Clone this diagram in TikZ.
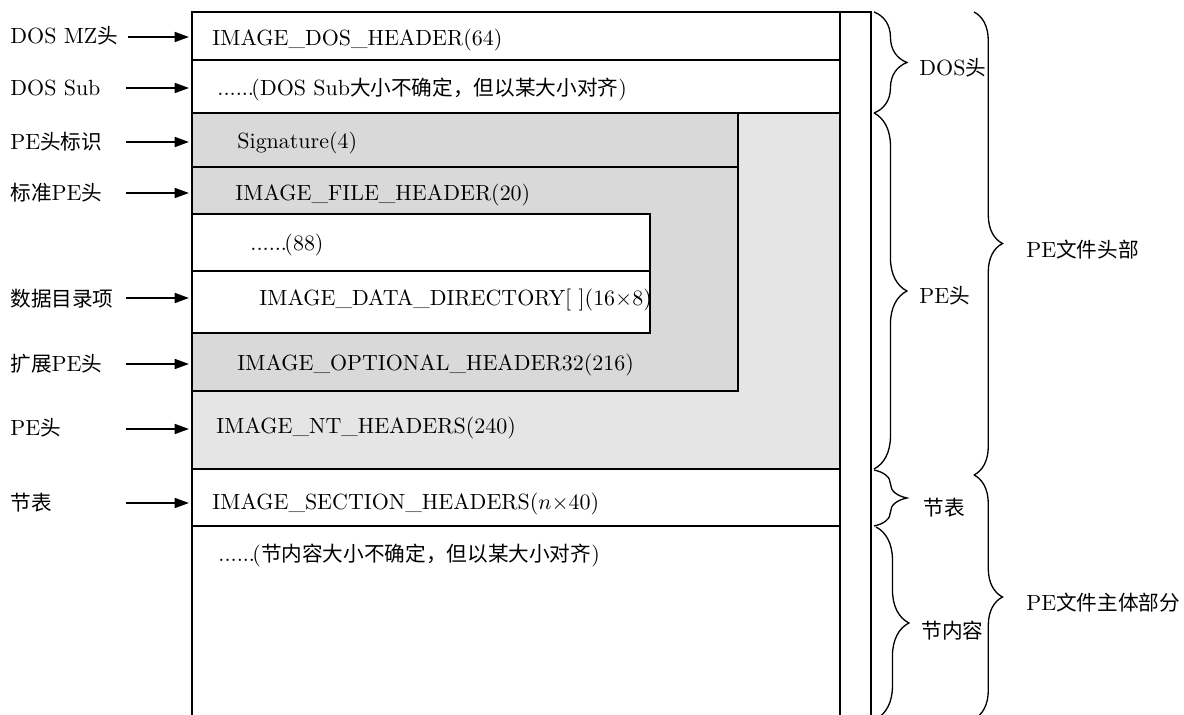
\documentclass[tikz,border=0pt]{standalone}
\usepackage{fontspec}
\usepackage{amsmath}
\newfontfamily\cjk[Scale=0.94]{Noto Sans CJK SC}
\newcommand{\zh}[1]{{\cjk #1}}
\newcommand{\sixdots}{\makebox[15.5pt][s]{.\hfil.\hfil.\hfil.\hfil.\hfil.}}
\usetikzlibrary{arrows.meta,decorations.pathreplacing}
\definecolor{ltgray}{RGB}{229,229,229}
\definecolor{dkgray}{RGB}{217,217,217}

\begin{document}
\begin{tikzpicture}[x=0.016cm, y=-0.016cm,
        lbl/.style={anchor=west, inner sep=0pt},
        ptr/.style={-{Triangle[length=6.5pt,width=4.5pt]}, line width=0.9pt},
        brc/.style={decorate, decoration={brace, amplitude=#1}, line width=0.6pt},
        brc/.default=15pt,
        box/.style={line width=0.6pt}]
    \useasboundingbox (0,0) rectangle (1184,715);
    \clip (0,0) rectangle (1184,715);

    % shaded parts
    \fill[ltgray] (192,113) rectangle (840,469);
    \draw[box, fill=dkgray] (192,113) rectangle (738,167);
    \draw[box, fill=dkgray] (192,167) rectangle (738,391);
    \draw[box, fill=white] (192,214) rectangle (650,271);
    \draw[box, fill=white] (192,271) rectangle (650,333);

    % frame
    \draw[box] (192,730) -- (192,12) -- (871,12) -- (871,730);
    \draw[box] (840,12) -- (840,730);
    \draw[box] (192,60) -- (840,60);
    \draw[box] (192,113) -- (840,113);
    \draw[box] (192,469) -- (840,469);
    \draw[box] (192,526) -- (840,526);

    % texts in the file
    \node[lbl] (dos) at (212,40) {IMAGE\_DOS\_HEADER(64)};
    \node[lbl] (sub) at (217,90) {\sixdots(DOS Sub\zh{大小不确定，但以某大小对齐})};
    \node[lbl] (sig) at (237,143) {Signature(4)};
    \node[lbl] (fh) at (235,195) {IMAGE\_FILE\_HEADER(20)};
    \node[lbl] (pad) at (250,245) {\sixdots(88)};
    \node[lbl] (dd) at (259,300) {IMAGE\_DATA\_DIRECTORY[~](16$\times$8)};
    \node[lbl] (oh) at (237,365) {IMAGE\_OPTIONAL\_HEADER32(216)};
    \node[lbl] (nt) at (216,428) {IMAGE\_NT\_HEADERS(240)};
    \node[lbl] (sh) at (212,504) {IMAGE\_SECTION\_HEADERS($n\times$40)};
    \node[lbl] (sc) at (218,556) {\sixdots(\zh{节内容大小不确定，但以某大小对齐})};

    % names on the left
    \node[lbl] (l1) at (10,36) {DOS MZ\zh{头}};
    \node[lbl] (l2) at (10,88) {DOS Sub};
    \node[lbl] (l3) at (10,142) {PE\zh{头标识}};
    \node[lbl] (l4) at (10,193) {\zh{标准}PE\zh{头}};
    \node[lbl] (l5) at (10,299) {\zh{数据目录项}};
    \node[lbl] (l6) at (10,364) {\zh{扩展}PE\zh{头}};
    \node[lbl] (l7) at (10,428) {PE\zh{头}};
    \node[lbl] (l8) at (10,503) {\zh{节表}};

    \coordinate (s1) at (128,37);  \coordinate (e1) at (189,37);
    \coordinate (s2) at (126,88);  \coordinate (e2) at (189,88);
    \coordinate (s3) at (126,142); \coordinate (e3) at (189,142);
    \coordinate (s4) at (126,193); \coordinate (e4) at (189,193);
    \coordinate (s5) at (126,298); \coordinate (e5) at (189,298);
    \coordinate (s6) at (126,364); \coordinate (e6) at (189,364);
    \coordinate (s7) at (126,429); \coordinate (e7) at (189,429);
    \coordinate (s8) at (126,503); \coordinate (e8) at (189,503);

    \draw[ptr] (s1) -- (e1);
    \draw[ptr] (s2) -- (e2);
    \draw[ptr] (s3) -- (e3);
    \draw[ptr] (s4) -- (e4);
    \draw[ptr] (s5) -- (e5);
    \draw[ptr] (s6) -- (e6);
    \draw[ptr] (s7) -- (e7);
    \draw[ptr] (s8) -- (e8);

    % braces
    \draw[brc] (874,12) -- (874,113);
    \draw[brc] (874,113) -- (874,469);
    \draw[brc] (874,470) -- (874,526);
    \draw[brc] (876,527) -- (876,719);
    \draw[brc=13pt] (974,12) -- (974,475);
    \draw[brc=13pt] (974,475) -- (974,719);

    \node[lbl] (r1) at (919,68) {DOS\zh{头}};
    \node[lbl] (r2) at (919,296) {PE\zh{头}};
    \node[lbl] (r3) at (923,508) {\zh{节表}};
    \node[lbl] (r4) at (921,631) {\zh{节内容}};
    \node[lbl] (r5) at (1026,250) {PE\zh{文件头部}};
    \node[lbl] (r6) at (1026,603) {PE\zh{文件主体部分}};
\end{tikzpicture}
\end{document}
